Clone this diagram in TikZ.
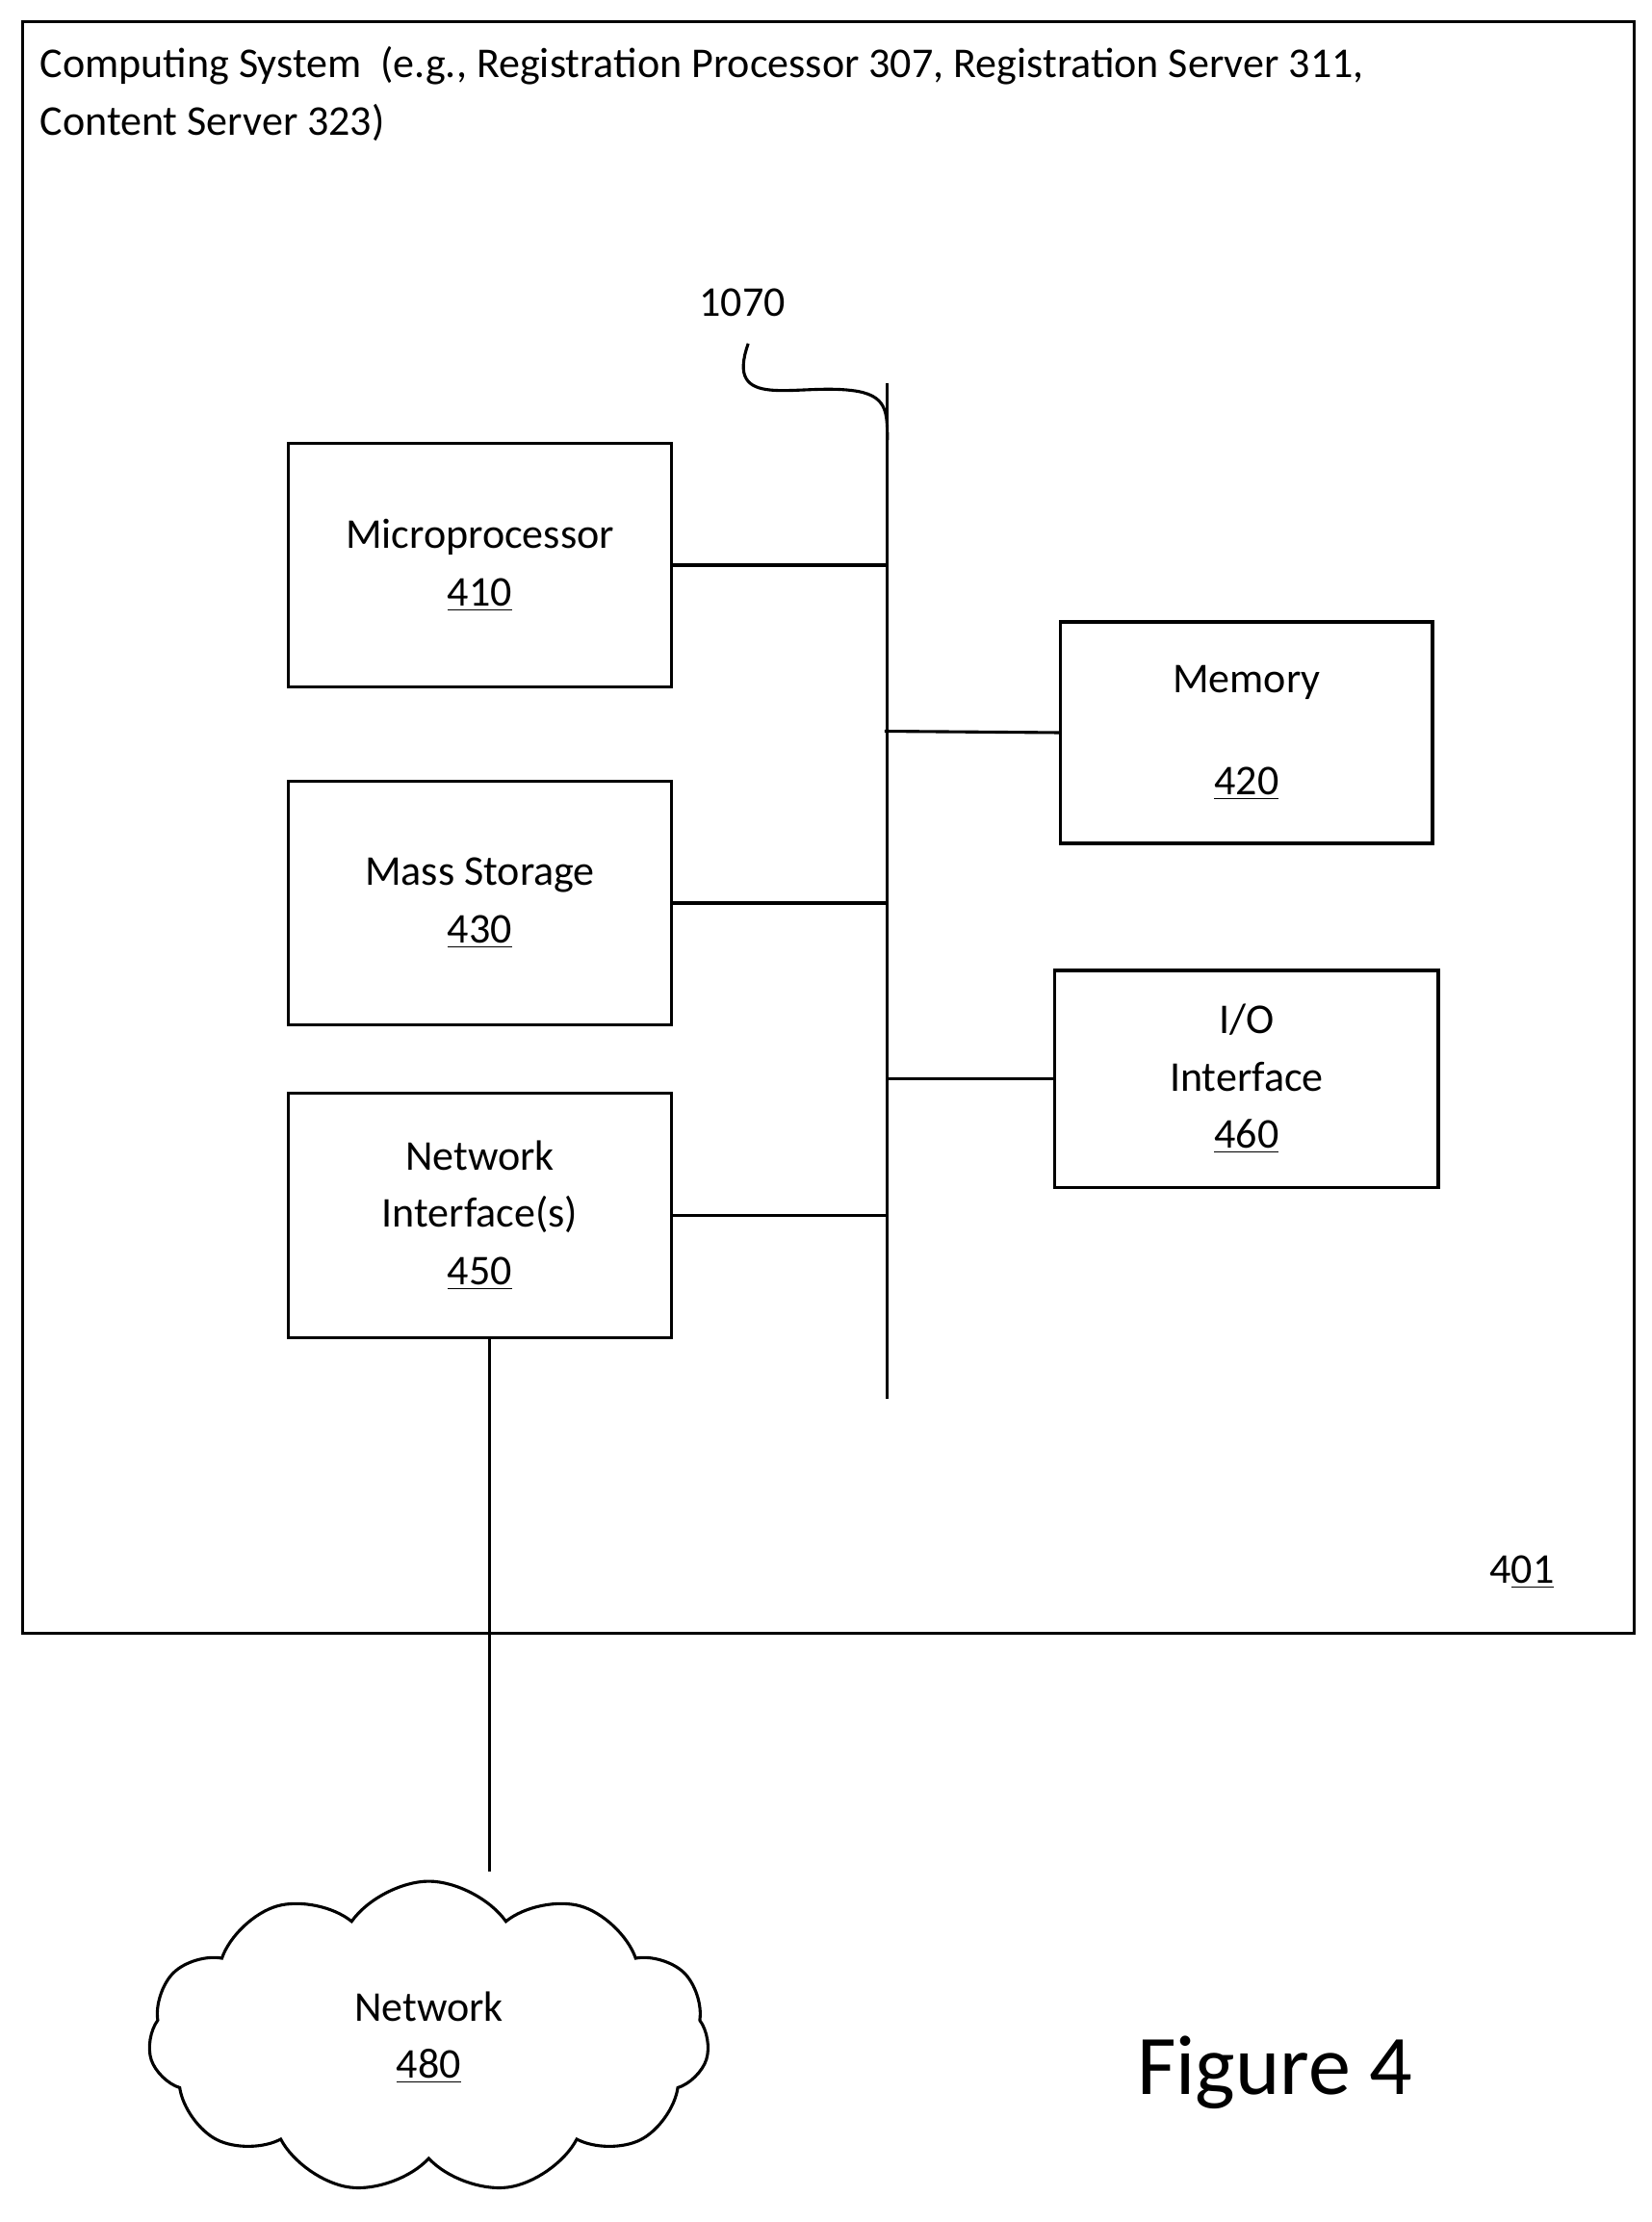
\documentclass[tikz,border=0pt]{standalone}
\usepackage{fontspec}
\setmainfont{Carlito}
\usetikzlibrary{shapes.symbols}
\begin{document}
\begin{tikzpicture}[x=0.02cm,y=-0.02cm,
  box/.style={draw,line width=1.2pt,align=center,font=\fontsize{17}{23}\selectfont},
  lbl/.style={font=\fontsize{17}{23}\selectfont},
  ln/.style={line width=1.2pt}]
\useasboundingbox (0,0) rectangle (1163,1565);
\node[draw,line width=1.2pt,minimum width=1135*0.02cm,minimum height=1135*0.02cm,anchor=north west] (sys) at (15,14) {};
\node[lbl,anchor=west,align=left] (title) at (22,66) {Computing System\ \ (e.g., Registration Processor 307, Registration Server 311,\\Content Server 323)};
\node[lbl] (n401) at (1072,1107) {4\underline{01}};
\node[lbl] (n1070) at (523,213) {1070};
\coordinate (bt) at (625,270);
\coordinate (bb) at (625,985);
\draw[ln] (bt) -- (bb);
\coordinate (sq) at (527,242);
\coordinate (sq2) at (625,310);
\draw[ln] (sq) .. controls (510,290) and (560,270) .. (600,275) .. controls (625,278) and (625,290) .. (sq2);
\node[box,minimum width=270*0.02cm,minimum height=172*0.02cm] (mp) at (338,398) {Microprocessor\\\underline{410}};
\node[box,minimum width=262*0.02cm,minimum height=156*0.02cm] (mem) at (878,516) {Memory\\[18pt]\underline{420}};
\node[box,minimum width=270*0.02cm,minimum height=172*0.02cm] (ms) at (338,636) {Mass Storage\\\underline{430}};
\node[box,minimum width=270*0.02cm,minimum height=153*0.02cm] (io) at (878,760) {I/O\\Interface\\\underline{460}};
\node[box,minimum width=270*0.02cm,minimum height=172*0.02cm] (ni) at (338,856) {Network\\Interface(s)\\\underline{450}};
\coordinate (j1) at (625,398); \coordinate (j2) at (623,515); \coordinate (j3) at (625,636);
\coordinate (j4) at (625,760); \coordinate (j5) at (625,856);
\draw[ln] (mp.east) -- (j1);
\draw[ln] (j2) -- (mem.west);
\draw[ln] (ms.east) -- (j3);
\draw[ln] (j4) -- (io.west);
\draw[ln] (ni.east) -- (j5);
\node[draw,line width=1.2pt,cloud,cloud puffs=11,cloud puff arc=110,aspect=1.8,minimum width=395*0.02cm,minimum height=220*0.02cm,align=center,font=\fontsize{17}{23}\selectfont] (net) at (302,1435) {Network\\\underline{480}};
\coordinate (nt) at (345,1318);
\draw[ln] (345,942) -- (nt);
\node[font=\fontsize{34}{40}\selectfont] (fig) at (898,1460) {Figure 4};
\end{tikzpicture}
\end{document}
